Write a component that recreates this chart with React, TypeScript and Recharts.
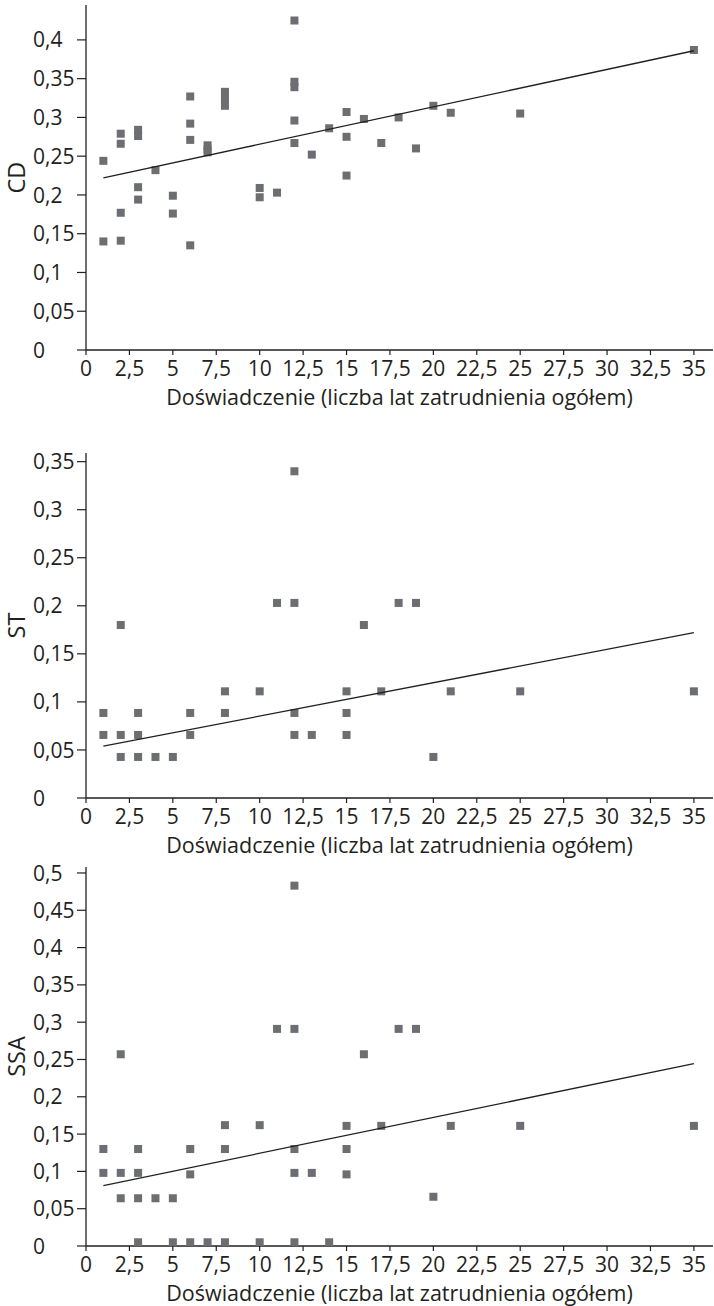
import { ScatterChart, Scatter, XAxis, YAxis } from 'recharts'

const INK = '#231f20'
const MARK = '#6d6e71'
const FONT = '"Open Sans", sans-serif'
const FS = 21
const TITLE_FS = 21.5

const xTicks = [0, 2.5, 5, 7.5, 10, 12.5, 15, 17.5, 20, 22.5, 25, 27.5, 30, 32.5, 35]
const xTitle = 'Doświadczenie (liczba lat zatrudnienia ogółem)'

// CD
const cdTicks = [0, 0.05, 0.1, 0.15, 0.2, 0.25, 0.3, 0.35, 0.4]
const cdPoints = [
  [1, 0.244], [1, 0.14],
  [2, 0.279], [2, 0.266], [2, 0.177], [2, 0.141],
  [3, 0.284], [3, 0.276], [3, 0.21], [3, 0.194],
  [4, 0.232],
  [5, 0.199], [5, 0.176],
  [6, 0.327], [6, 0.292], [6, 0.271], [6, 0.135],
  [7, 0.264], [7, 0.259], [7, 0.255],
  [8, 0.333], [8, 0.324], [8, 0.315],
  [10, 0.209], [10, 0.197],
  [11, 0.203],
  [12, 0.425], [12, 0.346], [12, 0.339], [12, 0.296], [12, 0.267],
  [13, 0.252],
  [14, 0.286],
  [15, 0.307], [15, 0.275], [15, 0.225],
  [16, 0.298], [17, 0.267], [18, 0.3], [19, 0.26], [20, 0.315], [21, 0.306], [25, 0.305], [35, 0.387],
]
const cdTrend = [[1, 0.222], [35, 0.386]]

// ST
const stTicks = [0, 0.05, 0.1, 0.15, 0.2, 0.25, 0.3, 0.35]
const stPoints = [
  [1, 0.0885], [1, 0.0656],
  [2, 0.18], [2, 0.0656], [2, 0.0427],
  [3, 0.0885], [3, 0.0656], [3, 0.0427],
  [4, 0.0427], [5, 0.0427],
  [6, 0.0885], [6, 0.0656],
  [8, 0.111], [8, 0.0885],
  [10, 0.111],
  [11, 0.203],
  [12, 0.34], [12, 0.203], [12, 0.0885], [12, 0.0656],
  [13, 0.0656],
  [15, 0.111], [15, 0.0885], [15, 0.0656],
  [16, 0.18], [17, 0.111], [18, 0.203], [19, 0.203], [20, 0.0427], [21, 0.111], [25, 0.111], [35, 0.111],
]
const stTrend = [[1, 0.054], [35, 0.172]]

// SSA
const ssaTicks = [0, 0.05, 0.1, 0.15, 0.2, 0.25, 0.3, 0.35, 0.4, 0.45, 0.5]
const ssaPoints = [
  [1, 0.13], [1, 0.098],
  [2, 0.257], [2, 0.098], [2, 0.064],
  [3, 0.13], [3, 0.098], [3, 0.064], [3, 0.005],
  [4, 0.064],
  [5, 0.064], [5, 0.005],
  [6, 0.13], [6, 0.096], [6, 0.005],
  [7, 0.005],
  [8, 0.162], [8, 0.13], [8, 0.005],
  [10, 0.162], [10, 0.005],
  [11, 0.291],
  [12, 0.483], [12, 0.291], [12, 0.13], [12, 0.098], [12, 0.005],
  [13, 0.098],
  [14, 0.005],
  [15, 0.161], [15, 0.13], [15, 0.096],
  [16, 0.257], [17, 0.161], [18, 0.291], [19, 0.291], [20, 0.066], [21, 0.161], [25, 0.161], [35, 0.161],
]
const ssaTrend = [[1, 0.081], [35, 0.2445]]

const comma = (v: number) => String(v).replace('.', ',')
const toXY = (arr: number[][]) => arr.map(([x, y]) => ({ x, y }))

const XTick = ({ x, y, payload }: any) => (
  <text x={x} y={y} dy="0.71em" textAnchor="middle" fontSize={FS} fontFamily={FONT} fill={INK}>
    {comma(payload.value)}
  </text>
)

const YTick = ({ y, payload }: any) => (
  <text x={33} y={y} dy="0.36em" textAnchor="start" fontSize={FS} fontFamily={FONT} fill={INK}>
    {comma(payload.value)}
  </text>
)

const Square = ({ cx, cy }: any) => <rect x={cx - 4} y={cy - 4} width={8} height={8} fill={MARK} />
const NoDot = () => <g />

function Panel({ top, height, plotTop, plotBottom, points, trend, ticks, yMax, label }: any) {
  const axisH = 60
  const margin = { top: plotTop - top, right: 1, left: 0, bottom: top + height - plotBottom - axisH }
  return (
    <div style={{ position: 'absolute', left: 0, top, width: 714, height }}>
      <ScatterChart width={714} height={height} margin={margin}>
        <XAxis
          type="number"
          dataKey="x"
          domain={[0, 36.1]}
          allowDataOverflow
          ticks={xTicks}
          interval={0}
          height={axisH}
          tickSize={5}
          tickMargin={6}
          tick={<XTick />}
          axisLine={{ stroke: INK, strokeWidth: 1.3 }}
          tickLine={{ stroke: INK, strokeWidth: 1.2 }}
          label={{ value: xTitle, position: 'insideBottom', offset: 5, fontSize: TITLE_FS, fontFamily: FONT, fill: INK }}
        />
        <YAxis
          type="number"
          dataKey="y"
          domain={[0, yMax]}
          allowDataOverflow
          ticks={ticks}
          interval={0}
          width={86}
          tickSize={9}
          tick={<YTick />}
          axisLine={{ stroke: INK, strokeWidth: 1.3 }}
          tickLine={{ stroke: INK, strokeWidth: 1.2 }}
          label={({ viewBox }: any) => {
            const cy = viewBox.y + viewBox.height / 2
            return (
              <text x={25} y={cy} transform={`rotate(-90, 25, ${cy})`} textAnchor="middle" fontSize={23.5} fontFamily={FONT} fill={INK}>
                {label}
              </text>
            )
          }}
        />
        <Scatter data={toXY(points)} shape={<Square />} isAnimationActive={false} />
        <Scatter
          data={toXY(trend)}
          shape={<NoDot />}
          line={{ stroke: INK, strokeWidth: 1.3 }}
          lineType="joint"
          isAnimationActive={false}
        />
      </ScatterChart>
    </div>
  )
}

export default function App() {
  return (
    <div style={{ position: 'absolute', left: 0, top: 0, width: 714, height: 1306, background: '#fff' }}>
      <Panel top={0} height={420} plotTop={5} plotBottom={350} points={cdPoints} trend={cdTrend} ticks={cdTicks} yMax={0.445} label="CD" />
      <Panel top={420} height={440} plotTop={453} plotBottom={798} points={stPoints} trend={stTrend} ticks={stTicks} yMax={0.359} label="ST" />
      <Panel top={860} height={446} plotTop={867} plotBottom={1246} points={ssaPoints} trend={ssaTrend} ticks={ssaTicks} yMax={0.508} label="SSA" />
    </div>
  )
}
